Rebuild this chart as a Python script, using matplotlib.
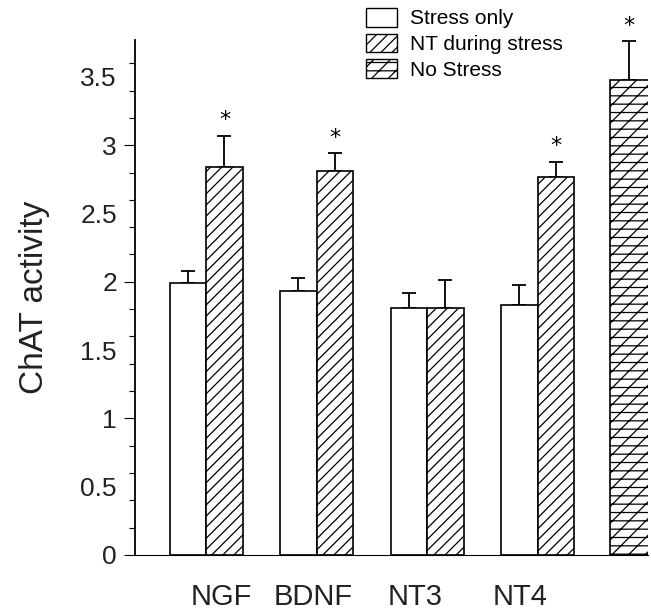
import numpy as np
import matplotlib
matplotlib.use("Agg")
import matplotlib.pyplot as plt
from matplotlib.patches import Patch

categories = ["NGF", "BDNF", "NT3", "NT4"]
stress_only = [1.99, 1.93, 1.81, 1.83]
stress_only_err = [0.09, 0.10, 0.11, 0.15]
nt_during = [2.84, 2.81, 1.81, 2.77]
nt_during_err = [0.23, 0.13, 0.20, 0.11]
nt_star = [True, True, False, True]
no_stress = 3.48
no_stress_err = 0.28
ytick_labels = ["0", "0.5", "1", "1.5", "2", "2.5", "3", "3.5"]
legend_labels = ["Stress only", "NT during stress", "No Stress"]

plt.rcParams['font.family'] = ['Liberation Sans', 'DejaVu Sans']
plt.rcParams['hatch.linewidth'] = 0.9

fig = plt.figure(figsize=(6.51, 6.10), dpi=100)
ax = fig.add_axes([135/651, 55/610, (648-135)/651, (555-40)/610])

w = 0.33
x = np.arange(len(categories))
ekw = dict(fmt='none', ecolor='black', elinewidth=1.3, capsize=5, capthick=1.3)

ax.bar(x - w/2, stress_only, width=w, color='white', edgecolor='black', linewidth=1.2, zorder=2)
ax.bar(x + w/2, nt_during, width=w, color='white', edgecolor='black', linewidth=1.2, hatch='///', zorder=2)
ns_x = 3.83
ax.bar([ns_x], [no_stress], width=w + 0.02, color='white', edgecolor='black', linewidth=1.2, hatch='//--', zorder=2)

ax.errorbar(x - w/2, stress_only, yerr=[np.zeros(4), stress_only_err], zorder=1, **ekw)
ax.errorbar(x + w/2, nt_during, yerr=[np.zeros(4), nt_during_err], zorder=1, **ekw)
ax.errorbar([ns_x], [no_stress], yerr=[[0], [no_stress_err]], zorder=1, **ekw)

for xi, v, e, s in zip(x + w/2, nt_during, nt_during_err, nt_star):
    if s:
        ax.annotate('*', (xi, v + e), xytext=(0, 4), textcoords='offset points',
                    ha='center', va='bottom', fontsize=16, fontfamily='DejaVu Sans')
ax.annotate('*', (ns_x, no_stress + no_stress_err), xytext=(0, 4), textcoords='offset points',
            ha='center', va='bottom', fontsize=16, fontfamily='DejaVu Sans', annotation_clip=False)

ax.set_xlim(-0.645, 4.0)
ax.set_ylim(0, 3.77)

for side in ['top', 'right']:
    ax.spines[side].set_visible(False)
ax.spines['left'].set_linewidth(1.3)
ax.spines['bottom'].set_linewidth(0.8)

ax.set_yticks(np.arange(0, 3.51, 0.5))
ax.set_yticklabels(ytick_labels, fontsize=19, color='#222222')
ax.set_yticks(np.arange(0, 3.61, 0.2), minor=True)
ax.tick_params(axis='y', which='major', length=0, pad=13)
ax.tick_params(axis='y', which='minor', length=4, width=0.8, direction='out')
sec = ax.secondary_yaxis('left')
sec.set_yticks([0, 1, 2, 3])
sec.set_yticklabels([])
sec.tick_params(length=8, width=0.8)
sec.spines['left'].set_visible(False)

ax.set_xticks([0.136, 0.97, 1.895, 2.84])
ax.set_xticklabels(categories, fontsize=21, color='#222222')
ax.tick_params(axis='x', length=0, pad=20)

ax.set_ylabel('ChAT activity', fontsize=24, color='#222222')
ax.yaxis.set_label_coords(-0.165, 0.5)

handles = [Patch(facecolor='white', edgecolor='black', linewidth=1.0),
           Patch(facecolor='white', edgecolor='black', linewidth=1.0, hatch='///'),
           Patch(facecolor='white', edgecolor='black', linewidth=1.0, hatch='//--')]
fig.legend(handles, legend_labels, loc='upper left', bbox_to_anchor=(366/651, 1 - 8/610),
           frameon=False, fontsize=15, handlelength=1.5, handleheight=1.0,
           borderpad=0, borderaxespad=0, labelspacing=0.25, handletextpad=0.6)

fig.savefig('out.png', dpi=100)
